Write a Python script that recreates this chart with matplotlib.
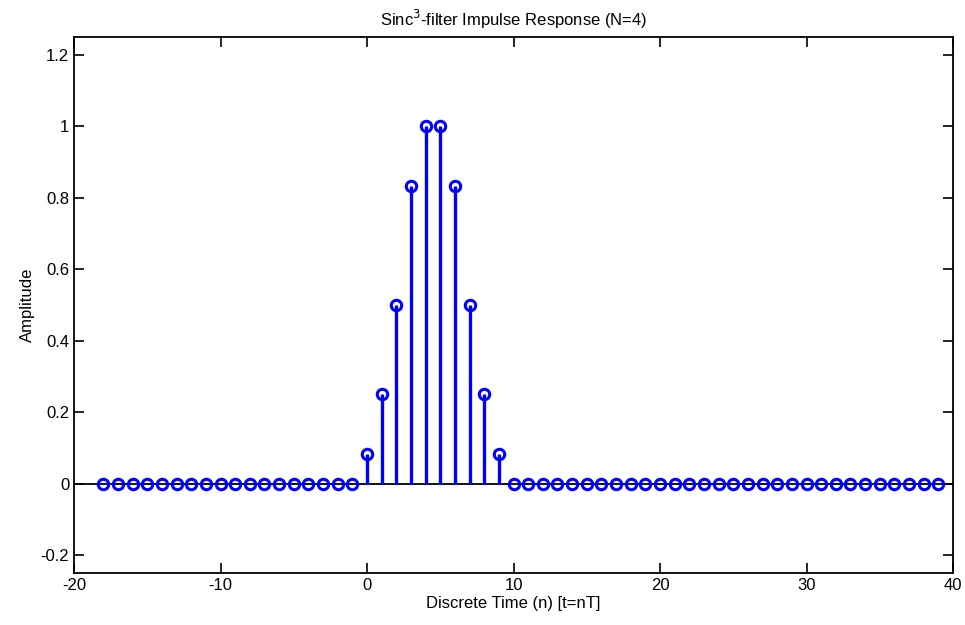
import matplotlib
matplotlib.use("Agg")
import matplotlib.pyplot as plt
import numpy as np

# Discrete time samples and impulse response values
n = np.arange(-18, 40)
peak_n = [0, 1, 2, 3, 4, 5, 6, 7, 8, 9]
peak_vals = [0.0833, 0.25, 0.5, 0.8333, 1.0, 1.0, 0.8333, 0.5, 0.25, 0.0833]

h = np.zeros(len(n))
for k, v in zip(peak_n, peak_vals):
    h[n == k] = v

x_ticks = [-20, -10, 0, 10, 20, 30, 40]
y_ticks = [-0.2, 0, 0.2, 0.4, 0.6, 0.8, 1, 1.2]
y_labels = ["-0.2", "0", "0.2", "0.4", "0.6", "0.8", "1", "1.2"]

plt.rcParams["font.family"] = ["Liberation Sans Narrow", "Liberation Sans", "DejaVu Sans"]
plt.rcParams["font.size"] = 12
plt.rcParams["axes.unicode_minus"] = False

fig = plt.figure(figsize=(9.65, 6.25), dpi=100)
ax = fig.add_axes([0.0767, 0.0832, 0.9109, 0.8576])

ax.axhline(0, color="black", lw=1.3, zorder=1)
markerline, stemlines, baseline = ax.stem(n, h, linefmt="b-", markerfmt="bo", basefmt=" ")
plt.setp(stemlines, linewidth=2.4, color="#0000ff")
plt.setp(markerline, markersize=7.5, markerfacecolor="none", markeredgecolor="#0000ff",
         markeredgewidth=2.2)

ax.set_xlim(-20, 40)
ax.set_ylim(-0.25, 1.25)
ax.set_xticks(x_ticks)
ax.set_yticks(y_ticks)
ax.set_yticklabels(y_labels)
ax.tick_params(direction="in", top=True, right=True, length=7, width=1.2, labelsize=12)
for s in ax.spines.values():
    s.set_linewidth(1.3)

ax.set_title("Sinc$^3$-filter Impulse Response (N=4)", fontsize=12, pad=8)
ax.set_xlabel("Discrete Time (n) [t=nT]", fontsize=12, labelpad=2)
ax.set_ylabel("Amplitude", fontsize=12, labelpad=4)

fig.savefig("out.png", dpi=100)
